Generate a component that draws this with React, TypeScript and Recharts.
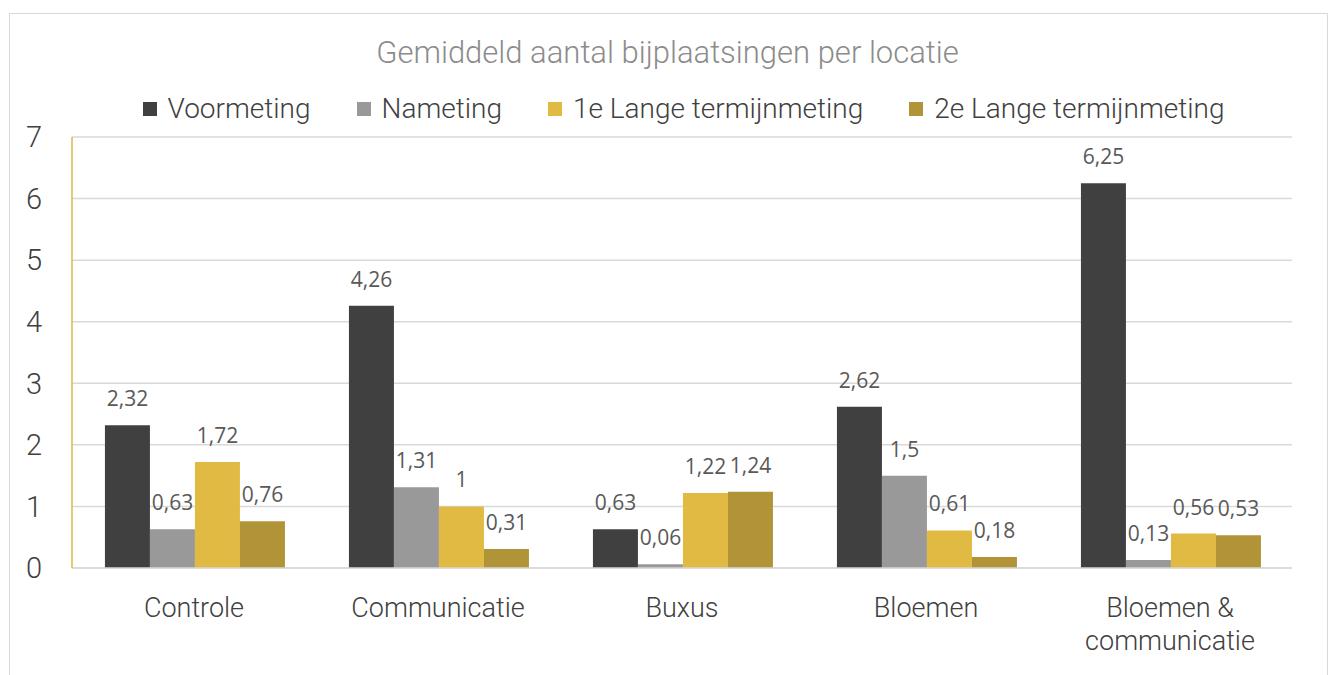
import { BarChart, Bar, XAxis, YAxis, CartesianGrid, LabelList } from 'recharts'

const categories = ['Controle', 'Communicatie', 'Buxus', 'Bloemen', 'Bloemen & communicatie']
const voormeting = [2.32, 4.26, 0.63, 2.62, 6.25]
const nameting = [0.63, 1.31, 0.06, 1.5, 0.13]
const lange1 = [1.72, 1, 1.22, 0.61, 0.56]
const lange2 = [0.76, 0.31, 1.24, 0.18, 0.53]
const yTicks = [0, 1, 2, 3, 4, 5, 6, 7]

const SERIES = [
  { key: 'v', name: 'Voormeting', color: '#404040', values: voormeting },
  { key: 'n', name: 'Nameting', color: '#999999', values: nameting },
  { key: 'l1', name: '1e Lange termijnmeting', color: '#E0BA42', values: lange1 },
  { key: 'l2', name: '2e Lange termijnmeting', color: '#B19338', values: lange2 },
]

const data = categories.map((cat, i) => {
  const row: Record<string, string | number> = { cat }
  SERIES.forEach((s) => (row[s.key] = s.values[i]))
  return row
})

const FONT = 'Roboto, "Noto Sans", sans-serif'
const fmt = (v: unknown) => String(v).replace('.', ',')

// breaks long category names onto two lines
function wrap(label: string, max = 14) {
  const lines: string[] = []
  let cur = ''
  label.split(' ').forEach((w) => {
    const next = cur ? cur + ' ' + w : w
    if (next.length > max && cur) {
      lines.push(cur)
      cur = w
    } else cur = next
  })
  if (cur) lines.push(cur)
  return lines
}

function CatTick(props: any) {
  const { x, y, payload } = props
  const lines = wrap(payload.value)
  return (
    <text x={x} y={y} textAnchor="middle" fill="#404040" fontFamily={FONT} fontWeight={300} fontSize={27}>
      {lines.map((l, i) => (
        <tspan key={i} x={x} dy={i === 0 ? 47 : 33}>
          {l}
        </tspan>
      ))}
    </text>
  )
}

export default function App() {
  return (
    <div style={{ position: 'absolute', left: 0, top: 0, width: 1335, height: 675, overflow: 'hidden', background: '#fff' }}>
      <div style={{ position: 'absolute', left: 9, top: 13, width: 1317, height: 720, border: '1px solid #d9d9d9' }} />
      {/* titel */}
      <div
        style={{
          position: 'absolute', left: 0, top: 35, width: 1335, textAlign: 'center', lineHeight: '36px',
          fontFamily: FONT, fontWeight: 300, fontSize: 31, color: '#8c8c8c',
        }}
      >
        Gemiddeld aantal bijplaatsingen per locatie
      </div>
      {/* legenda */}
      <div
        style={{
          position: 'absolute', left: 16, top: 91, width: 1335, height: 36, display: 'flex', justifyContent: 'center',
          gap: 46, fontFamily: FONT, fontWeight: 300, fontSize: 28, lineHeight: '36px', color: '#404040',
        }}
      >
        {SERIES.map((s) => (
          <div key={s.key} style={{ display: 'flex', alignItems: 'center' }}>
            <span style={{ width: 14, height: 14, background: s.color, marginRight: 11, display: 'inline-block' }} />
            <span>{s.name}</span>
          </div>
        ))}
      </div>
      <div style={{ position: 'absolute', left: 0, top: 0 }}>
        <BarChart
          width={1335}
          height={675}
          data={data}
          margin={{ top: 137, right: 43, left: 12, bottom: 47 }}
          barCategoryGap="13.5%"
          barGap={0}
        >
          <CartesianGrid vertical={false} stroke="#d9d9d9" strokeWidth={1.5} />
          <XAxis
            dataKey="cat"
            tick={<CatTick />}
            tickLine={false}
            tickSize={0}
            axisLine={{ stroke: '#d9d9d9', strokeWidth: 1.5 }}
            height={60}
            interval={0}
          />
          <YAxis
            domain={[0, 7]}
            ticks={yTicks}
            width={60}
            tickLine={false}
            tickSize={0}
            tickMargin={30}
            axisLine={{ stroke: '#E0BA42', strokeWidth: 1.5 }}
            tick={{ fill: '#404040', fontFamily: FONT, fontWeight: 300, fontSize: 29 }}
          />
          {SERIES.map((s) => (
            <Bar key={s.key} dataKey={s.key} name={s.name} fill={s.color} isAnimationActive={false}>
              <LabelList
                dataKey={s.key}
                position="top"
                offset={19}
                formatter={fmt}
                fill="#595959"
                fontFamily='"Open Sans", sans-serif'
                fontSize={21}
              />
            </Bar>
          ))}
        </BarChart>
      </div>
    </div>
  )
}
